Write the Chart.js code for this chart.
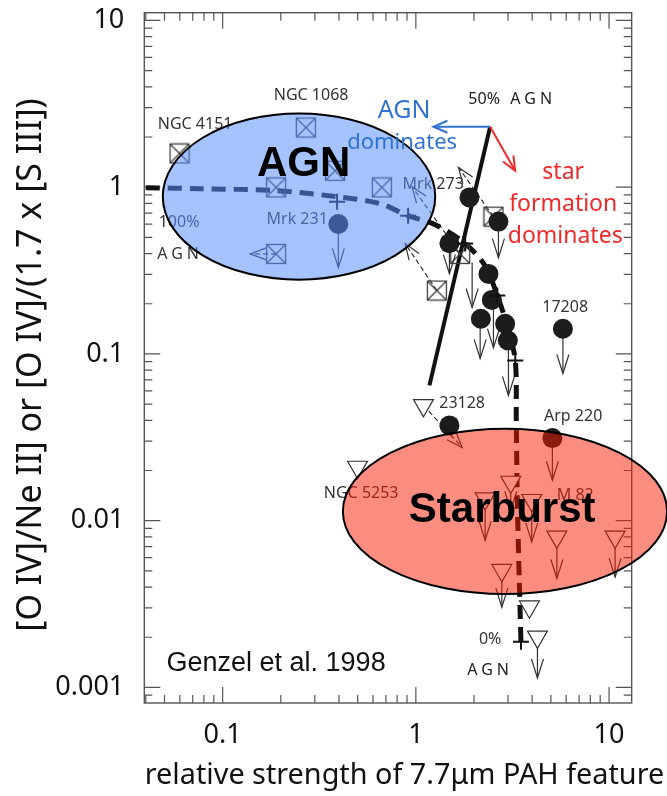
<!DOCTYPE html>
<html>
<head>
<meta charset="utf-8">
<script src="https://cdn.jsdelivr.net/npm/chart.js@4"></script>
<style>
html, body { margin: 0; padding: 0; background: #fff; }
</style>
</head>
<body>
<canvas id="graph" width="667" height="796"></canvas>
<script>
// axis ranges and labelled decades
var xMin = 0.0393, xMax = 13.1;
var yMin = 0.000807, yMax = 11.13;
var xTickValues = [0.1, 1, 10];
var yTickValues = [0.001, 0.01, 0.1, 1, 10];

// AGN / starburst mixing line (100% AGN at left, 0% AGN at bottom)
var mixX = [0.04, 0.0765, 0.189, 0.391, 0.653, 0.912, 1.259, 1.80, 2.28, 2.64, 2.97, 3.27, 3.31, 3.35, 3.43, 3.50];
var mixY = [0.993, 0.98, 0.953, 0.877, 0.797, 0.675, 0.596, 0.459, 0.339, 0.224, 0.148, 0.0915, 0.040, 0.0133, 0.0044, 0.00187];
var stepX = [0.391, 0.912, 1.80, 2.64, 3.27, 3.50];
var stepY = [0.819, 0.675, 0.459, 0.224, 0.0915, 0.00188];

// 50% AGN line
var halfX = [2.424, 1.176];
var halfY = [2.303, 0.0648];

// ULIRGs (filled circles)
var ulirgX = [0.397, 1.894, 2.676, 1.492, 2.376, 2.474, 2.170, 2.899, 2.994, 5.77, 1.492, 5.09];
var ulirgY = [0.602, 0.869, 0.622, 0.461, 0.302, 0.211, 0.1625, 0.1517, 0.1205, 0.1416, 0.0373, 0.0313];

// ISO AGN (boxed crosses)
var agnX = [0.0598, 0.2696, 0.1891, 0.382, 0.667, 0.1891, 1.284, 2.522, 1.696];
var agnY = [1.594, 2.28, 0.997, 1.255, 0.997, 0.398, 0.240, 0.666, 0.398];

// starbursts (open triangles)
var sbX = [1.095, 0.499, 3.10, 2.284, 3.98, 5.37, 10.75, 2.787, 3.87, 4.26];
var sbY = [0.0492, 0.021, 0.01707, 0.01358, 0.01327, 0.0080, 0.0080, 0.00505, 0.00305, 0.00201];

// upper limits: x, from, to
var limX    = [0.397, 2.676, 1.492, 1.956, 2.152, 2.522, 3.015, 5.77, 5.09, 2.284, 3.98, 3.10, 2.787, 5.37, 10.75, 4.26];
var limFrom = [0.602, 0.622, 0.461, 0.353, 0.1625, 0.215, 0.1205, 0.1416, 0.0313, 0.01358, 0.01327, 0.01707, 0.00505, 0.0080, 0.0080, 0.00201];
var limTo   = [0.33, 0.378, 0.303, 0.19, 0.094, 0.109, 0.0564, 0.0764, 0.01748, 0.00764, 0.00747, 0.01156, 0.00303, 0.0045, 0.00459, 0.00114];

// shifted values (dashed arrows)
var moveFromX = [0.1891, 1.284, 2.522, 1.696, 1.095];
var moveFromY = [0.398, 0.240, 0.666, 0.398, 0.0492];
var moveToX   = [0.139, 0.880, 1.662, 0.956, 1.736];
var moveToY   = [0.398, 0.459, 1.314, 1.007, 0.0275];

// regions (x range, y range)
var agnRegion = [0.049, 1.26, 0.279, 2.77];
var sbRegion = [0.419, 19.98, 0.00363, 0.03565];

// direction arrows from the 50% point
var dirFrom = [2.424, 2.303];
var agnDirTo = [1.233, 2.303];
var sfDirTo = [3.266, 1.256];

var xTitle = 'relative strength of 7.7\u03bcm PAH feature';
var yTitle = '[O IV]/Ne II] or [O IV]/(1.7 x [S III])';

function pts(xs, ys) {
    return xs.map(function (x, i) { return { x: x, y: ys[i] }; });
}

// boxed cross marker
var boxCross = document.createElement('canvas');
boxCross.width = 22; boxCross.height = 22;
(function () {
    var c = boxCross.getContext('2d');
    c.strokeStyle = '#3c3c3c';
    c.lineWidth = 1.3;
    c.strokeRect(1.5, 1.5, 19, 19);
    c.beginPath();
    c.moveTo(1.5, 1.5); c.lineTo(20.5, 20.5);
    c.moveTo(20.5, 1.5); c.lineTo(1.5, 20.5);
    c.stroke();
})();

function arrowHead(ctx, x1, y1, x2, y2, len, half) {
    var a = Math.atan2(y2 - y1, x2 - x1);
    var bx = x2 - Math.cos(a) * len, by = y2 - Math.sin(a) * len;
    var nx = -Math.sin(a) * half, ny = Math.cos(a) * half;
    ctx.setLineDash([]);
    ctx.beginPath();
    ctx.moveTo(bx + nx, by + ny);
    ctx.lineTo(x2, y2);
    ctx.lineTo(bx - nx, by - ny);
    ctx.stroke();
}

function label(ctx, chart, text, x, y, font, color, spacing) {
    var p = [chart.scales.x.getPixelForValue(x), chart.scales.y.getPixelForValue(y)];
    ctx.save();
    ctx.font = font;
    ctx.fillStyle = color;
    ctx.textAlign = 'center';
    ctx.textBaseline = 'middle';
    ctx.letterSpacing = spacing || '0px';
    ctx.fillText(text, p[0], p[1]);
    ctx.restore();
}

var small = '16px "Noto Sans"';

var underPlugin = {
    id: 'under',
    beforeDatasetsDraw: function (chart) {
        var ctx = chart.ctx, sx = chart.scales.x, sy = chart.scales.y;
        var a = chart.chartArea;
        ctx.save();
        // frame and inward ticks
        ctx.strokeStyle = '#555';
        ctx.lineWidth = 1.4;
        ctx.strokeRect(a.left, a.top, a.right - a.left, a.bottom - a.top);
        ctx.lineWidth = 1.2;
        ctx.beginPath();
        for (var d = -4; d <= 1; d++) {
            for (var k = 1; k <= 9; k++) {
                var v = k * Math.pow(10, d);
                var len = k === 1 ? 16 : 8;
                if (v > xMin && v < xMax) {
                    var p = sx.getPixelForValue(v);
                    ctx.moveTo(p, a.bottom); ctx.lineTo(p, a.bottom - len);
                    ctx.moveTo(p, a.top); ctx.lineTo(p, a.top + len);
                }
                if (v > yMin && v < yMax) {
                    var q = sy.getPixelForValue(v);
                    ctx.moveTo(a.left, q); ctx.lineTo(a.left + len, q);
                    ctx.moveTo(a.right, q); ctx.lineTo(a.right - len, q);
                }
            }
        }
        ctx.stroke();

        // axis titles
        ctx.fillStyle = '#111';
        ctx.textAlign = 'center';
        ctx.textBaseline = 'middle';
        ctx.font = '28.8px "Noto Sans"';
        ctx.fillText(xTitle, 404.5, 776);
        ctx.save();
        ctx.translate(31, 365);
        ctx.rotate(-Math.PI / 2);
        ctx.font = '34px "Noto Sans"';
        ctx.fillText(yTitle, 0, 0);
        ctx.restore();

        // upper limit arrows
        ctx.strokeStyle = '#333';
        ctx.lineWidth = 1.2;
        limX.forEach(function (x, i) {
            var px = sx.getPixelForValue(x);
            var y1 = sy.getPixelForValue(limFrom[i]), y2 = sy.getPixelForValue(limTo[i]);
            ctx.beginPath(); ctx.moveTo(px, y1); ctx.lineTo(px, y2); ctx.stroke();
            arrowHead(ctx, px, y1, px, y2, 19, 6);
        });

        // dashed arrows
        moveFromX.forEach(function (x, i) {
            var x1 = sx.getPixelForValue(x), y1 = sy.getPixelForValue(moveFromY[i]);
            var x2 = sx.getPixelForValue(moveToX[i]), y2 = sy.getPixelForValue(moveToY[i]);
            ctx.setLineDash([5, 3]);
            ctx.beginPath(); ctx.moveTo(x1, y1); ctx.lineTo(x2, y2); ctx.stroke();
            arrowHead(ctx, x1, y1, x2, y2, 16, 6);
        });
        ctx.restore();
    },
    afterDatasetsDraw: function (chart) {
        var ctx = chart.ctx, sx = chart.scales.x, sy = chart.scales.y;
        var grey = '#333';

        // object names
        label(ctx, chart, 'NGC 1068', 0.287, 3.53, small, grey);
        label(ctx, chart, 'NGC 4151', 0.072, 2.384, small, grey);
        label(ctx, chart, 'Mrk 231', 0.243, 0.643, small, grey);
        label(ctx, chart, 'Mrk 273', 1.229, 1.042, small, grey);
        label(ctx, chart, '100%', 0.0595, 0.617, small, grey);
        label(ctx, chart, 'AGN', 0.0602, 0.397, small, grey, '4px');
        label(ctx, chart, '50%', 2.257, 3.342, small, '#222');
        label(ctx, chart, 'AGN', 4.05, 3.342, small, '#222', '4px');
        label(ctx, chart, '17208', 5.93, 0.19, small, grey);
        label(ctx, chart, '23128', 1.736, 0.0502, small, grey);
        label(ctx, chart, 'Arp 220', 6.52, 0.042, small, grey);
        label(ctx, chart, 'NGC 5253', 0.521, 0.01451, small, grey);
        label(ctx, chart, 'M 82', 6.68, 0.01421, small, grey);
        label(ctx, chart, '0%', 2.424, 0.00195, small, grey);
        label(ctx, chart, 'AGN', 2.424, 0.001273, small, '#222', '4px');
        label(ctx, chart, 'Genzel et al. 1998', 0.189, 0.0014, '27px "Liberation Sans"', '#111');

        // shaded regions
        function region(r, fill) {
            var x1 = sx.getPixelForValue(r[0]), x2 = sx.getPixelForValue(r[1]);
            var y1 = sy.getPixelForValue(r[2]), y2 = sy.getPixelForValue(r[3]);
            ctx.save();
            ctx.beginPath();
            ctx.ellipse((x1 + x2) / 2, (y1 + y2) / 2, Math.abs(x2 - x1) / 2, Math.abs(y2 - y1) / 2, 0, 0, Math.PI * 2);
            ctx.fillStyle = fill;
            ctx.fill();
            ctx.strokeStyle = '#000';
            ctx.lineWidth = 2;
            ctx.stroke();
            ctx.restore();
        }
        region(agnRegion, 'rgba(87,144,255,0.54)');
        region(sbRegion, 'rgba(245,28,0,0.5)');

        label(ctx, chart, 'AGN', 0.2626, 1.364, 'bold 42px "Liberation Sans"', '#000');
        label(ctx, chart, 'Starburst', 2.797, 0.01156, 'bold 42px "Liberation Sans"', '#000');

        // AGN / star formation direction arrows
        var p0 = [sx.getPixelForValue(dirFrom[0]), sy.getPixelForValue(dirFrom[1])];
        ctx.save();
        ctx.lineWidth = 2;
        ctx.strokeStyle = '#2f73d2';
        var pb = [sx.getPixelForValue(agnDirTo[0]), sy.getPixelForValue(agnDirTo[1])];
        ctx.beginPath(); ctx.moveTo(p0[0], p0[1]); ctx.lineTo(pb[0], pb[1]); ctx.stroke();
        arrowHead(ctx, p0[0], p0[1], pb[0], pb[1], 14, 6);
        ctx.strokeStyle = '#ee2a2a';
        var pr = [sx.getPixelForValue(sfDirTo[0]), sy.getPixelForValue(sfDirTo[1])];
        ctx.beginPath(); ctx.moveTo(p0[0], p0[1]); ctx.lineTo(pr[0], pr[1]); ctx.stroke();
        arrowHead(ctx, p0[0], p0[1], pr[0], pr[1], 14, 6);
        ctx.restore();

        var blue = '#2f73d2', red = '#ee2a2a';
        label(ctx, chart, 'AGN', 0.87, 2.871, '25px "Noto Sans"', blue);
        label(ctx, chart, 'dominates', 0.849, 1.847, '22px "Noto Sans"', blue);
        label(ctx, chart, 'star', 5.79, 1.221, '23px "Noto Sans"', red);
        label(ctx, chart, 'formation', 5.79, 0.786, '23px "Noto Sans"', red);
        label(ctx, chart, 'dominates', 5.93, 0.509, '23px "Noto Sans"', red);
    }
};

var chartCtx = document.getElementById('graph').getContext('2d');

var chart = new Chart(chartCtx, {
    type: 'scatter',
    data: {
        datasets: [
            {
                label: 'mixing',
                type: 'line',
                data: pts(mixX, mixY),
                borderColor: '#111',
                borderWidth: 5,
                borderDash: [14, 8],
                pointRadius: 0,
                tension: 0.3,
                fill: false,
                order: 6
            },
            {
                label: '50% AGN',
                type: 'line',
                data: pts(halfX, halfY),
                borderColor: '#111',
                borderWidth: 4,
                pointRadius: 0,
                fill: false,
                order: 7
            },
            {
                label: 'starbursts',
                data: pts(sbX, sbY),
                pointStyle: 'triangle',
                rotation: 180,
                pointRadius: 11.5,
                backgroundColor: '#fff',
                borderColor: '#333',
                borderWidth: 1.2,
                order: 4
            },
            {
                label: 'AGN',
                data: pts(agnX, agnY),
                pointStyle: boxCross,
                order: 3
            },
            {
                label: 'ULIRGs',
                data: pts(ulirgX, ulirgY),
                pointStyle: 'circle',
                pointRadius: 10,
                backgroundColor: '#1c1c1c',
                borderColor: '#1c1c1c',
                borderWidth: 0,
                order: 2
            },
            {
                label: 'mixing steps',
                data: pts(stepX, stepY),
                pointStyle: 'cross',
                pointRadius: 8,
                borderColor: '#111',
                borderWidth: 2,
                order: 1
            }
        ]
    },
    options: {
        responsive: false,
        animation: false,
        devicePixelRatio: 1,
        layout: { padding: { top: 11.7, right: 35.3, bottom: 0, left: 0 } },
        plugins: { legend: { display: false }, tooltip: { enabled: false } },
        scales: {
            x: {
                type: 'logarithmic',
                min: xMin,
                max: xMax,
                afterBuildTicks: function (s) { s.ticks = xTickValues.map(function (v) { return { value: v }; }); },
                afterFit: function (s) { s.height = 93; s.paddingLeft = 0; s.paddingRight = 0; },
                grid: { display: false, drawTicks: false },
                border: { display: false },
                ticks: {
                    autoSkip: false,
                    maxRotation: 0,
                    padding: 16,
                    color: '#111',
                    font: { family: 'Noto Sans', size: 27 },
                    callback: function (v) { return String(v); }
                }
            },
            y: {
                type: 'logarithmic',
                min: yMin,
                max: yMax,
                afterBuildTicks: function (s) { s.ticks = yTickValues.map(function (v) { return { value: v }; }); },
                afterFit: function (s) { s.width = 144.3; s.paddingTop = 0; s.paddingBottom = 0; },
                grid: { display: false, drawTicks: false },
                border: { display: false },
                ticks: {
                    autoSkip: false,
                    padding: 20,
                    color: '#111',
                    font: { family: 'Noto Sans', size: 27 },
                    callback: function (v) { return String(v); }
                }
            }
        }
    },
    plugins: [underPlugin]
});
</script>
</body>
</html>
